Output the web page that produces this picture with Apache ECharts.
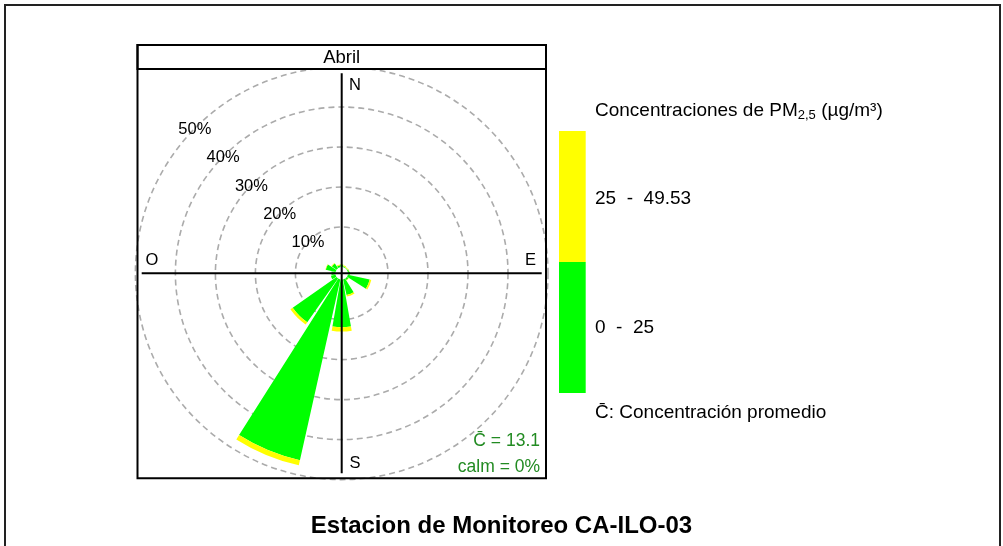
<!DOCTYPE html>
<html>
<head>
<meta charset="utf-8">
<script src="https://cdn.jsdelivr.net/npm/echarts@6/dist/echarts.min.js"></script>
<style>
    body { margin: 0; background: #fff; }
    #main { width: 1003px; height: 546px; }
</style>
</head>
<body>
<div id="main"></div>
<script>
// rosa de vientos - frecuencia (%) por direccion y rango de concentracion
var direcciones = ['N', 'NNE', 'NE', 'ENE', 'E', 'ESE', 'SE', 'SSE', 'S', 'SSW', 'SW', 'WSW', 'W', 'WNW', 'NW', 'NNW'];
var rango1 = [0.6, 0.2, 0.1, 0.3, 0.5, 5.6, 0.5, 4.0, 11.9, 46.3, 13.4, 1.2, 1.0, 2.5, 1.4, 0.5];   // 0 - 25
var rango2 = [0.1, 0.3, 0.2, 0.1, 0.0, 0.4, 0.1, 0.4, 1.1, 1.3, 0.7, 0.0, 0.0, 0.1, 0.2, 0.2];   // 25 - 49.53
var anillos = [10, 20, 30, 40, 50];
var etiquetasRango = ['25  -  49.53', '0  -  25'];

var cx = 341.7, cy = 273.3;
var fuente = '"Liberation Sans", Arial, sans-serif';

var myChart = echarts.init(document.getElementById('main'));

myChart.setOption({
    backgroundColor: '#fff',
    animation: false,
    polar: {
        center: [cx, cy],
        radius: [6.3, 206.3]
    },
    angleAxis: {
        type: 'category',
        data: direcciones,
        startAngle: 101.25,
        clockwise: true,
        axisLine: {show: false},
        axisTick: {show: false},
        axisLabel: {show: false},
        splitLine: {show: false}
    },
    radiusAxis: {
        type: 'value',
        min: 0,
        max: 50,
        interval: 10,
        axisLine: {show: false},
        axisTick: {show: false},
        axisLabel: {show: false},
        splitLine: {
            show: true,
            lineStyle: {
                color: ['rgba(0,0,0,0)', '#ababab', '#ababab', '#ababab', '#ababab', '#ababab'],
                width: 1.6,
                type: [6, 4]
            }
        }
    },
    series: [{
        name: '0 - 25',
        type: 'bar',
        coordinateSystem: 'polar',
        stack: 'pm',
        barCategoryGap: '12%',
        itemStyle: {color: '#00ff00'},
        data: rango1
    }, {
        name: '25 - 49.53',
        type: 'bar',
        coordinateSystem: 'polar',
        stack: 'pm',
        barCategoryGap: '12%',
        itemStyle: {color: '#ffff00'},
        data: rango2
    }]
});

// etiquetas de porcentaje sobre los anillos, direccion NO
var graficos = [];
anillos.forEach(function (v) {
    var p = myChart.convertToPixel({seriesIndex: 0}, [v, 'NW']);
    graficos.push({
        type: 'text', z: 110, x: p[0] - 1, y: p[1] + 2,
        style: {text: v + '%', font: '16.5px ' + fuente, fill: '#000', align: 'center', verticalAlign: 'middle'}
    });
});

function texto(t, x, y, size, opts) {
    opts = opts || {};
    return {
        type: 'text', z: 110, x: x, y: y,
        style: {
            text: t,
            font: (opts.bold ? 'bold ' : '') + size + 'px ' + fuente,
            fill: opts.color || '#000',
            align: opts.align || 'left',
            verticalAlign: 'middle'
        }
    };
}

graficos = graficos.concat([
    // marco exterior
    {type: 'rect', z: 100, shape: {x: 5, y: 5, width: 995, height: 580}, style: {fill: 'none', stroke: '#222', lineWidth: 2}},
    // franja del titulo del panel
    {type: 'rect', z: 100, shape: {x: 137.5, y: 45, width: 408.5, height: 24}, style: {fill: '#fff', stroke: '#000', lineWidth: 2}},
    {type: 'rect', z: 100, shape: {x: 137.5, y: 45, width: 408.5, height: 433.3}, style: {fill: 'none', stroke: '#000', lineWidth: 2}},
    // ejes N-S y E-O
    {type: 'line', z: 105, shape: {x1: cx - 200, y1: cy, x2: cx + 200, y2: cy}, style: {stroke: '#000', lineWidth: 2}},
    {type: 'line', z: 105, shape: {x1: cx, y1: cy - 200, x2: cx, y2: cy + 200}, style: {stroke: '#000', lineWidth: 2}},
    texto('Abril', cx, 57.5, 18.5, {align: 'center'}),
    texto('N', 355, 85, 16.5, {align: 'center'}),
    texto('S', 355, 463, 16.5, {align: 'center'}),
    texto('E', 530.5, 260, 16.5, {align: 'center'}),
    texto('O', 152, 260, 16.5, {align: 'center'}),
    texto('C\u0304 = 13.1', 540, 441, 17.5, {align: 'right', color: '#228b22'}),
    texto('calm = 0%', 540, 467, 17.5, {align: 'right', color: '#228b22'}),
    // leyenda
    {
        type: 'text', z: 110, x: 595, y: 111,
        style: {
            text: '{a|Concentraciones de PM}{s|2,5}{a| (µg/m³)}',
            verticalAlign: 'middle',
            rich: {
                a: {font: '19px ' + fuente, fill: '#000', lineHeight: 22},
                s: {font: '13px ' + fuente, fill: '#000', lineHeight: 14, verticalAlign: 'bottom'}
            }
        }
    },
    {type: 'rect', z: 100, shape: {x: 559, y: 131, width: 26.7, height: 131}, style: {fill: '#ffff00'}},
    {type: 'rect', z: 100, shape: {x: 559, y: 262, width: 26.7, height: 131}, style: {fill: '#00ff00'}},
    texto(etiquetasRango[0], 595, 198.5, 19),
    texto(etiquetasRango[1], 595, 328, 19),
    texto('C\u0304: Concentración promedio', 595, 412.5, 19),
    texto('Estacion de Monitoreo CA-ILO-03', 501.5, 526, 24, {align: 'center', bold: true})
]);

myChart.setOption({graphic: graficos});
</script>
</body>
</html>
